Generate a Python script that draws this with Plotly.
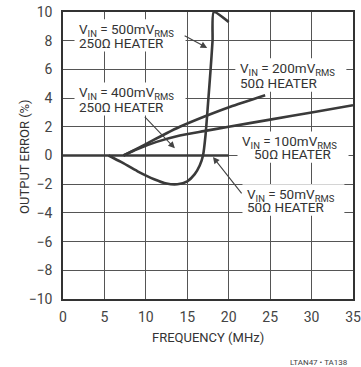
import plotly.graph_objects as go

# Frequency (MHz) / output error (%)
flat_x = [0, 5, 10, 15, 20]
flat_y = [0, 0, 0, 0, 0]

v200_x = [7.3, 9, 11, 12.5, 14.1, 17, 20.2, 24.4]
v200_y = [0, 0.5, 1.1, 1.55, 2.0, 2.7, 3.4, 4.2]

v400_x = [7.3, 9, 11.3, 14.1, 17, 20, 25, 30, 35]
v400_y = [0, 0.45, 0.95, 1.4, 1.7, 2.0, 2.5, 3.0, 3.5]

v500_x = [5.5, 7, 9, 11, 12.5, 13.8, 15, 15.9, 16.5, 16.9, 17.2, 17.5, 17.8, 18.05, 18.2, 20]
v500_y = [0, -0.45, -1.1, -1.65, -1.95, -2.0, -1.8, -1.3, -0.7, 0.0, 1.4, 3.6, 5.9, 8.0, 10.0, 9.3]

x_ticks = [0, 5, 10, 15, 20, 25, 30, 35]
y_ticks = [-10, -8, -6, -4, -2, 0, 2, 4, 6, 8, 10]

FONT = "Roboto, Liberation Sans, sans-serif"
INK = "#3a3a3a"
GRID = "#555555"

fig = go.Figure()
for xs, ys in [(flat_x, flat_y), (v200_x, v200_y), (v400_x, v400_y), (v500_x, v500_y)]:
    fig.add_trace(go.Scatter(x=xs, y=ys, mode="lines",
                             line=dict(color=INK, width=2.6, shape="spline", smoothing=0.6),
                             hoverinfo="skip", showlegend=False))

# labels: (line1, line2, x1, x2, y1, y2, box width in MHz)
labels = [
    ("V<sub>IN</sub> = 500mV<sub>RMS</sub>", "250Ω HEATER", 1.69, 1.69, 8.89, 7.84, 13.1),
    ("V<sub>IN</sub> = 400mV<sub>RMS</sub>", "250Ω HEATER", 1.69, 1.69, 4.49, 3.38, 13.1),
    ("V<sub>IN</sub> = 200mV<sub>RMS</sub>", "50Ω HEATER", 21.1, 21.1, 6.17, 5.05, 13.1),
    ("V<sub>IN</sub> = 100mV<sub>RMS</sub>", "50Ω HEATER", 21.36, 22.8, 1.08, 0.10, 13.1),
    ("V<sub>IN</sub> = 50mV<sub>RMS</sub>", "50Ω HEATER", 21.96, 21.96, -2.61, -3.59, 12.0),
]
for t1, t2, x1, x2, y1, y2, w in labels:
    # white mask behind the label so gridlines break around it
    fig.add_shape(type="rect", xref="x", yref="y", x0=x1 - 0.3, x1=x1 + w,
                  y0=y2 - 0.6, y1=y1 + 0.6, fillcolor="white", line=dict(width=0),
                  layer="above")
    fig.add_annotation(x=x1, y=y1, xref="x", yref="y", text=t1, showarrow=False,
                       xanchor="left", yanchor="middle", yshift=-2,
                       font=dict(family=FONT, size=13.5, color="#333333"))
    fig.add_annotation(x=x2, y=y2, xref="x", yref="y", text=t2, showarrow=False,
                       xanchor="left", yanchor="middle",
                       font=dict(family=FONT, size=13.5, color="#333333"))

arrows = [
    (17.4, 7.5, 14.5, 8.4),
    (13.5, 0.5, 9.7, 2.8),
    (18.1, -0.1, 21.7, -2.75),
]
for x, y, ax, ay in arrows:
    fig.add_annotation(x=x, y=y, ax=ax, ay=ay, xref="x", yref="y", axref="x", ayref="y",
                       text="", showarrow=True, arrowhead=2, arrowsize=1.2, arrowwidth=1.1,
                       arrowcolor="#444444")

fig.add_annotation(x=0.5, y=-0.135, xref="paper", yref="paper", text="FREQUENCY (MHz)",
                   showarrow=False, xanchor="center", yanchor="middle",
                   font=dict(family=FONT, size=13, color="#333333"))
fig.add_annotation(x=-0.131, y=0.495, xref="paper", yref="paper", text="OUTPUT ERROR (%)",
                   showarrow=False, textangle=-90, xanchor="center", yanchor="middle",
                   font=dict(family=FONT, size=13, color="#333333"))
fig.add_annotation(x=0.99, y=-0.22, xref="paper", yref="paper", text="LTAN47 • TA138",
                   showarrow=False, xanchor="right", yanchor="middle",
                   font=dict(family=FONT, size=8, color="#444444"))

axis_common = dict(showgrid=True, gridcolor=GRID, gridwidth=1, zeroline=False,
                   showline=True, linecolor="#333333", linewidth=1.5, mirror=True,
                   ticks="", tickfont=dict(family=FONT, size=14, color="#444444"),
                   fixedrange=True, automargin=False, ticklabeloverflow="allow")
fig.update_xaxes(range=[0, 35], tickvals=x_ticks, ticklabelstandoff=4, **axis_common)
fig.update_yaxes(range=[-10, 10], tickvals=y_ticks, ticklabelstandoff=6, **axis_common)

fig.update_layout(width=361, height=367, margin=dict(l=63, r=8, t=12, b=68),
                  paper_bgcolor="white", plot_bgcolor="white", showlegend=False)

fig.write_html("out.html", config={"displayModeBar": False},
               post_script="document.body.style.margin='0';")
